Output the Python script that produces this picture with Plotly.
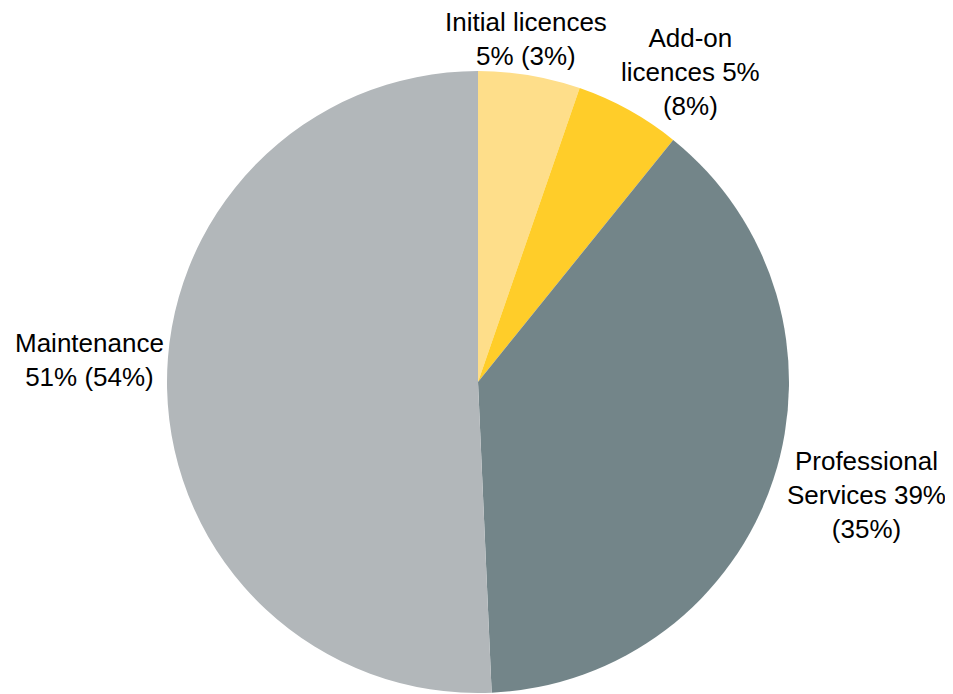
import plotly.graph_objects as go

categories = ["Initial licences", "Add-on licences", "Professional Services", "Maintenance"]
values = [5.3, 5.5, 38.5, 50.7]
label_texts = [
    "Initial licences<br>5% (3%)",
    "Add-on<br>licences 5%<br>(8%)",
    "Professional<br>Services 39%<br>(35%)",
    "Maintenance<br>51% (54%)",
]
colors = ["#FEDE8A", "#FFCD29", "#738589", "#B2B7BA"]

# page body has an 8px margin; figure is sized to fit the 953x694 window
OFF = 8
W, H = 953 - OFF, 694 - OFF
label_px = [(526, 39), (690, 72), (866, 495), (89, 360)]

cx, cy, r = 478 - OFF, 382 - OFF, 311

fig = go.Figure(go.Pie(
    labels=categories,
    values=values,
    sort=False,
    direction="clockwise",
    rotation=0,
    marker=dict(colors=colors, line=dict(width=0)),
    textinfo="none",
    hoverinfo="label+percent",
    showlegend=False,
    domain=dict(x=[(cx - r) / W, (cx + r) / W], y=[1 - (cy + r) / H, 1 - (cy - r) / H]),
))

for txt, (px, py) in zip(label_texts, label_px):
    fig.add_annotation(
        text=txt, x=(px - OFF) / W, y=1 - (py - OFF) / H, xref="paper", yref="paper",
        xanchor="center", yanchor="middle", showarrow=False, align="center",
        font=dict(family="Liberation Sans, Arial, sans-serif", size=26, color="#000000"),
    )

fig.update_layout(
    width=W, height=H,
    margin=dict(l=0, r=0, t=0, b=0),
    paper_bgcolor="white", plot_bgcolor="white",
)

fig.write_html("out.html")
